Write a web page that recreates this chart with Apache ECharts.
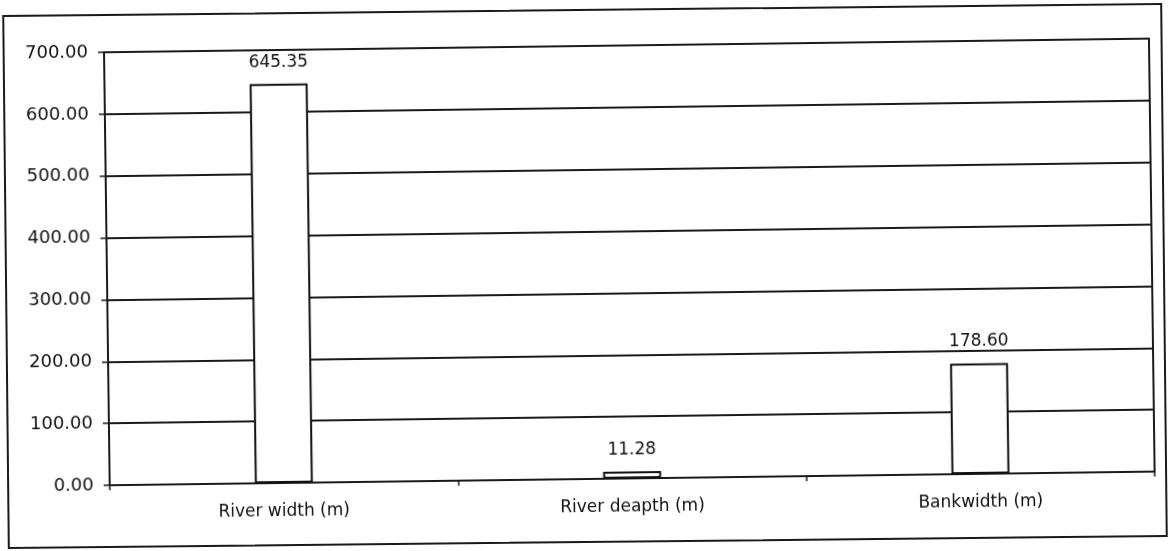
<!DOCTYPE html>
<html>
<head>
<meta charset="utf-8">
<script src="https://cdn.jsdelivr.net/npm/echarts@6/dist/echarts.min.js"></script>
<style>
html,body{margin:0;padding:0;background:#fff;}
#frame{position:absolute;left:5px;top:9px;width:1160px;height:534px;border:2px solid #1a1a1a;box-sizing:border-box;transform:rotate(-0.6deg);}
#chart{position:absolute;left:0;top:0;width:1171px;height:551px;transform:rotate(-0.75deg);}
</style>
</head>
<body>
<div id="frame"></div>
<div id="chart"></div>
<script>
const categories = ["River width (m)", "River deapth (m)", "Bankwidth (m)"];
const values = [645.35, 11.28, 178.60];

const FONT = 'DejaVu Sans, Liberation Sans, Arial';
const chart = echarts.init(document.getElementById('chart'));
chart.setOption({
  animation: false,
  backgroundColor: 'transparent',
  grid: { left: 107, right: 19, top: 46, bottom: 72, show: true, borderColor: '#1a1a1a', borderWidth: 2 },
  xAxis: {
    type: 'category',
    data: categories,
    axisLine: { lineStyle: { color: '#1a1a1a', width: 2 } },
    axisTick: { show: true, alignWithLabel: false, length: 5, lineStyle: { color: '#1a1a1a', width: 1.5 } },
    axisLabel: { color: '#111', fontFamily: FONT, fontSize: 17, margin: 20 }
  },
  yAxis: {
    type: 'value',
    min: 0, max: 700, interval: 100,
    axisLine: { show: true, lineStyle: { color: '#1a1a1a', width: 2 } },
    axisTick: { show: true, length: 6, lineStyle: { color: '#1a1a1a', width: 1.5 } },
    splitLine: { lineStyle: { color: '#1a1a1a', width: 2 } },
    axisLabel: { color: '#111', fontFamily: FONT, fontSize: 18, margin: 16,
      formatter: v => v.toFixed(2) }
  },
  series: [{
    type: 'bar',
    data: values,
    barWidth: 58,
    itemStyle: { color: '#fff', borderColor: '#111', borderWidth: 2 },
    label: { show: true, position: 'top', distance: 13, color: '#111',
      fontFamily: FONT, fontSize: 17, formatter: p => p.value.toFixed(2) }
  }]
});
</script>
</body>
</html>
